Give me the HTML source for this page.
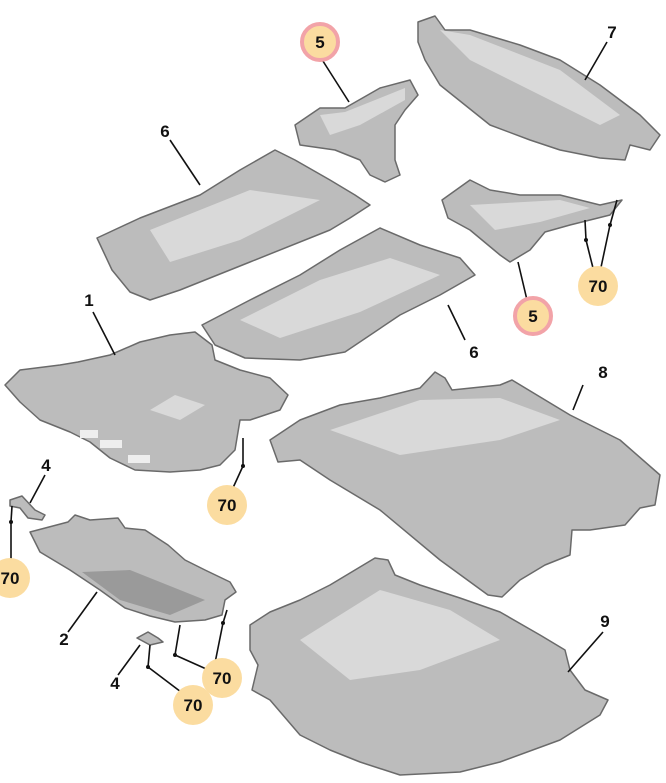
<!DOCTYPE html>
<html><head><meta charset="utf-8"><style>
html,body{margin:0;padding:0;background:#fff;}
svg{display:block;}
.p{fill:#bcbcbc;stroke:#6a6a6a;stroke-width:1.5;stroke-linejoin:round;}
.h{fill:#d9d9d9;stroke:none;}
.d{fill:#9a9a9a;stroke:none;}
.l{stroke:#111;stroke-width:1.6;fill:none;}
.n{font-family:"Liberation Sans",sans-serif;font-weight:bold;font-size:17px;fill:#111;text-anchor:middle;}
.y{fill:#fbdca0;}
.r{fill:#fbdca0;stroke:#f2a3a8;stroke-width:4;}
.dot{fill:#111;}
</style></head><body>
<svg width="666" height="783" viewBox="0 0 666 783" xmlns="http://www.w3.org/2000/svg">
<!-- part 7 -->
<polygon class="p" points="418,22 435,16 445,30 470,30 520,45 560,60 600,85 640,115 660,135 650,150 630,145 625,160 600,158 560,150 530,140 490,125 440,85 425,60 418,42"/>
<polygon class="h" points="440,30 470,35 560,70 620,115 600,125 540,95 470,60"/>
<!-- part 5 top -->
<polygon class="p" points="295,125 320,108 345,108 380,88 410,80 418,95 405,110 395,125 395,160 400,175 385,182 370,175 360,160 335,150 300,145"/>
<polygon class="h" points="320,115 345,112 405,88 405,100 360,125 330,135"/>
<!-- part 6 top -->
<polygon class="p" points="97,238 140,218 200,195 240,170 275,150 295,160 330,180 355,195 370,205 350,218 330,230 250,262 180,290 150,300 130,292 112,270"/>
<polygon class="h" points="150,230 250,190 320,200 240,240 170,262"/>
<!-- part 5 right -->
<polygon class="p" points="442,200 470,180 490,190 520,195 560,195 600,205 622,200 610,215 570,225 545,232 530,250 510,262 500,255 470,230 448,218"/>
<polygon class="h" points="470,205 560,200 590,208 540,222 495,230"/>
<!-- part 6 lower -->
<polygon class="p" points="202,325 250,300 300,275 340,250 380,228 420,245 460,258 475,275 440,295 400,315 345,352 300,360 245,358 215,345"/>
<polygon class="h" points="240,320 320,280 390,258 440,275 360,312 280,338"/>
<!-- part 1 -->
<polygon class="p" points="5,385 20,370 60,365 78,362 110,355 140,342 170,335 195,332 212,345 215,360 240,370 270,378 288,395 280,410 250,420 240,420 235,450 220,465 200,470 170,472 135,470 110,458 90,442 70,432 40,420 20,402"/>
<polygon class="h" points="150,410 175,395 205,405 180,420"/>
<rect x="80" y="430" width="18" height="8" fill="#eee"/><rect x="100" y="440" width="22" height="8" fill="#eee"/><rect x="128" y="455" width="22" height="8" fill="#eee"/>
<!-- part 8 -->
<polygon class="p" points="270,440 300,420 340,405 380,398 420,388 435,372 445,378 452,390 500,385 512,380 570,415 620,440 660,475 655,505 640,508 625,525 590,530 572,530 570,555 545,565 520,580 502,597 488,595 440,560 380,510 330,480 300,460 278,462"/>
<polygon class="h" points="330,430 420,400 500,398 560,420 500,440 400,455"/>
<!-- part 9 -->
<polygon class="p" points="250,625 270,612 300,600 330,585 375,558 388,560 395,575 420,585 460,598 500,612 540,635 565,650 570,670 585,690 608,700 600,715 560,740 500,762 460,772 400,775 360,762 330,750 300,735 270,700 252,690 258,665 250,650"/>
<polygon class="h" points="300,640 380,590 450,610 500,640 420,670 350,680"/>
<!-- part 2 -->
<polygon class="p" points="30,532 68,522 75,515 90,520 118,518 125,528 145,530 168,545 185,560 205,570 230,582 236,592 225,600 222,615 205,620 175,622 150,616 125,608 100,590 70,570 40,552"/>
<polygon class="d" points="82,572 130,570 205,600 170,615 120,600"/>
<!-- part 4 top -->
<polygon class="p" points="10,500 22,496 35,510 45,515 42,520 28,518 20,508 10,506"/>
<!-- part 4 bottom -->
<polygon class="p" points="137,638 148,632 158,638 163,642 150,645"/>

<!-- leaders -->
<line class="l" x1="321" y1="58" x2="349" y2="102"/>
<line class="l" x1="607" y1="42" x2="585" y2="80"/>
<line class="l" x1="170" y1="140" x2="200" y2="185"/>
<line class="l" x1="518" y1="262" x2="527" y2="300"/>
<line class="l" x1="585" y1="220" x2="586" y2="240"/><line class="l" x1="586" y1="240" x2="594" y2="272"/>
<line class="l" x1="617" y1="200" x2="610" y2="225"/><line class="l" x1="610" y1="225" x2="600" y2="272"/>
<line class="l" x1="448" y1="305" x2="465" y2="340"/>
<line class="l" x1="93" y1="312" x2="115" y2="355"/>
<line class="l" x1="243" y1="438" x2="243" y2="466"/><line class="l" x1="243" y1="466" x2="232" y2="490"/>
<line class="l" x1="583" y1="385" x2="573" y2="410"/>
<line class="l" x1="45" y1="475" x2="30" y2="503"/>
<line class="l" x1="12" y1="506" x2="11" y2="522"/><line class="l" x1="11" y1="522" x2="11" y2="562"/>
<line class="l" x1="68" y1="632" x2="97" y2="592"/>
<line class="l" x1="180" y1="625" x2="175" y2="655"/><line class="l" x1="175" y1="655" x2="213" y2="672"/>
<line class="l" x1="227" y1="610" x2="223" y2="623"/><line class="l" x1="223" y1="623" x2="215" y2="663"/>
<line class="l" x1="118" y1="675" x2="140" y2="645"/>
<line class="l" x1="150" y1="645" x2="148" y2="667"/><line class="l" x1="148" y1="667" x2="185" y2="695"/>
<line class="l" x1="603" y1="632" x2="568" y2="672"/>
<circle class="dot" cx="586" cy="240" r="2"/><circle class="dot" cx="610" cy="225" r="2"/>
<circle class="dot" cx="243" cy="466" r="2"/><circle class="dot" cx="11" cy="522" r="2"/>
<circle class="dot" cx="175" cy="655" r="2"/><circle class="dot" cx="223" cy="623" r="2"/><circle class="dot" cx="148" cy="667" r="2"/>

<!-- callouts -->
<circle class="r" cx="320" cy="42" r="18"/><text class="n" x="320" y="48">5</text>
<circle class="r" cx="533" cy="316" r="18"/><text class="n" x="533" y="322">5</text>
<circle class="y" cx="598" cy="286" r="20"/><text class="n" x="598" y="292">70</text>
<circle class="y" cx="227" cy="505" r="20"/><text class="n" x="227" y="511">70</text>
<circle class="y" cx="10" cy="578" r="20"/><text class="n" x="10" y="584">70</text>
<circle class="y" cx="222" cy="678" r="20"/><text class="n" x="222" y="684">70</text>
<circle class="y" cx="193" cy="705" r="20"/><text class="n" x="193" y="711">70</text>
<text class="n" x="612" y="38">7</text>
<text class="n" x="165" y="137">6</text>
<text class="n" x="474" y="358">6</text>
<text class="n" x="89" y="306">1</text>
<text class="n" x="603" y="378">8</text>
<text class="n" x="46" y="471">4</text>
<text class="n" x="64" y="645">2</text>
<text class="n" x="115" y="689">4</text>
<text class="n" x="605" y="627">9</text>
</svg>
</body></html>
